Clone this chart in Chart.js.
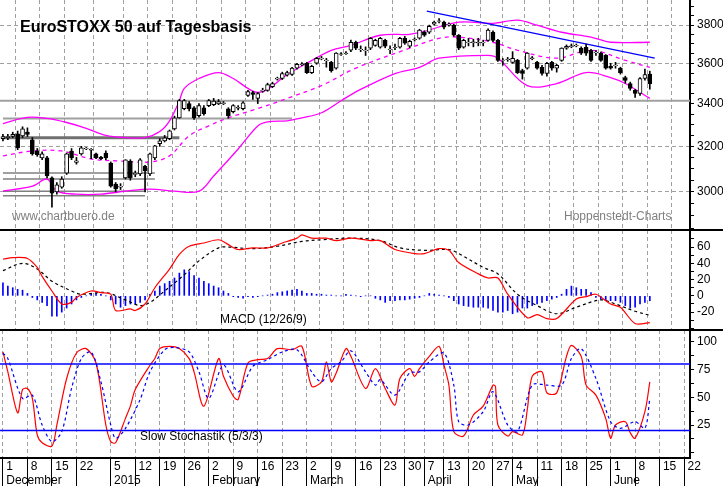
<!DOCTYPE html>
<html><head><meta charset="utf-8">
<script src="https://cdn.jsdelivr.net/npm/chart.js@4"></script>
<style>
body{margin:0;width:723px;height:486px;background:#fff;overflow:hidden;font-family:"Liberation Sans",Arial,sans-serif;position:relative}
.p{position:absolute;left:0;width:723px}
.sep{position:absolute;left:0;width:723px;height:2px;background:#000}
.t{position:absolute;white-space:nowrap}
</style></head><body>
<div class="p" style="top:0;height:230px"><canvas id="c1"></canvas></div>
<div class="p" style="top:230px;height:100px"><canvas id="c2"></canvas></div>
<div class="p" style="top:330px;height:156px"><canvas id="c3"></canvas></div>
<div class="sep" style="top:229px"></div>
<div class="sep" style="top:329px"></div>
<div class="t" style="left:20px;top:18px;font-size:16px;font-weight:bold;color:#000">EuroSTOXX 50 auf Tagesbasis</div>
<div class="t" style="left:12px;top:209px;font-size:12px;color:#808080">www.chartbuero.de</div>
<div class="t" style="left:564px;top:209px;font-size:12px;color:#808080">Hoppenstedt-Charts</div>
<div class="t" style="left:220px;top:312px;font-size:12px;color:#000">MACD (12/26/9)</div>
<div class="t" style="left:140px;top:429px;font-size:12px;color:#000">Slow Stochastik (5/3/3)</div>
<script>
const openP=[3235,3240,3245,3257,3248,3265,3230,3180,3148,3148,3060,3000,3020,3080,3179,3128,3166,3188,3183,3166,3150,3170,3125,3033,3020,3060,3134,3075,3077,3112,3077,3148,3212,3225,3235,3280,3332,3375,3400,3380,3342,3380,3390,3395,3398,3400,3375,3361,3378,3375,3440,3454,3425,3460,3464,3483,3520,3523,3540,3543,3575,3593,3600,3553,3600,3624,3613,3605,3575,3645,3650,3667,3709,3670,3665,3678,3693,3683,3719,3670,3680,3683,3730,3688,3722,3730,3762,3762,3805,3820,3816,3800,3800,3746,3683,3707,3707,3706,3705,3719,3762,3719,3614,3619,3605,3615,3563,3575,3624,3605,3580,3548,3605,3575,3615,3678,3686,3690,3678,3683,3667,3655,3652,3641,3585,3588,3575,3528,3498,3464,3449,3523,3545];
const highP=[3255,3255,3265,3270,3290,3285,3240,3190,3175,3155,3065,3040,3065,3170,3190,3150,3200,3195,3190,3170,3155,3180,3130,3040,3035,3140,3140,3090,3145,3115,3170,3205,3235,3250,3275,3340,3420,3420,3410,3385,3400,3390,3420,3425,3420,3410,3380,3395,3390,3410,3465,3460,3455,3475,3500,3505,3530,3555,3560,3580,3600,3603,3605,3590,3630,3635,3625,3610,3655,3655,3660,3720,3715,3690,3685,3735,3725,3735,3725,3690,3700,3735,3740,3720,3732,3778,3770,3800,3822,3835,3822,3812,3805,3750,3725,3730,3725,3730,3720,3780,3770,3725,3625,3630,3660,3620,3570,3655,3635,3610,3590,3605,3610,3595,3680,3695,3700,3700,3685,3700,3672,3665,3658,3645,3600,3605,3580,3535,3505,3470,3528,3570,3560];
const lowP=[3225,3230,3240,3185,3240,3245,3160,3155,3140,3060,2936,2990,3015,3075,3140,3120,3160,3185,3145,3145,3140,3140,3020,3000,3010,3055,3050,3065,3070,3000,3070,3140,3200,3220,3230,3275,3330,3370,3365,3325,3335,3345,3385,3390,3395,3395,3330,3355,3370,3370,3435,3420,3400,3455,3460,3478,3515,3518,3535,3538,3570,3588,3548,3548,3595,3618,3580,3555,3570,3640,3645,3660,3670,3660,3640,3670,3688,3678,3680,3650,3670,3678,3698,3680,3715,3725,3740,3755,3800,3812,3780,3795,3740,3670,3678,3690,3685,3690,3690,3715,3712,3610,3590,3610,3600,3548,3520,3570,3618,3570,3540,3535,3565,3555,3610,3672,3680,3685,3645,3640,3610,3640,3610,3570,3570,3575,3545,3500,3465,3430,3440,3515,3470];
const closeP=[3245,3245,3255,3193,3280,3255,3166,3162,3166,3068,2994,3030,3055,3166,3148,3135,3193,3190,3185,3148,3145,3148,3024,3012,3024,3139,3060,3080,3139,3090,3166,3202,3225,3239,3271,3332,3414,3414,3375,3332,3390,3352,3414,3412,3410,3404,3342,3390,3382,3404,3459,3444,3449,3466,3493,3498,3525,3548,3553,3575,3595,3597,3553,3585,3626,3627,3617,3563,3652,3648,3653,3709,3678,3673,3668,3730,3719,3730,3688,3673,3683,3730,3704,3714,3725,3773,3746,3794,3816,3823,3789,3805,3746,3678,3719,3710,3711,3709,3709,3773,3719,3615,3617,3621,3626,3553,3548,3652,3628,3575,3548,3600,3575,3590,3678,3688,3690,3693,3652,3652,3615,3658,3615,3575,3575,3590,3553,3513,3474,3449,3523,3543,3498];

const upperIdx=[0,5,9,13,17,21,25,29,32,34,36,37,40,44,47,50,52,54,58,62,67,71,77,83,86,93,100,105,109,114,120,124,132];
const upperVal=[3305,3334,3329,3310,3283,3250,3240,3240,3268,3318,3414,3474,3523,3553,3523,3474,3454,3469,3543,3600,3667,3693,3746,3751,3767,3816,3810,3827,3800,3762,3736,3709,3709];
const midIdx=[0,6,12,18,24,30,34,38,42,46,52,58,65,72,83,89,93,100,105,113,120,127,132];
const midVal=[3157,3179,3179,3143,3134,3130,3157,3248,3294,3332,3376,3425,3488,3575,3678,3730,3736,3709,3667,3626,3667,3615,3579];
const lowerIdx=[0,6,9,11,15,20,25,30,35,40,43,48,52,54,58,61,65,69,73,80,85,89,99,101,107,113,119,124,127,132];
const lowerVal=[3003,3024,3055,3003,2990,2990,3003,3012,3003,3003,3068,3188,3294,3313,3318,3332,3356,3414,3469,3548,3579,3626,3641,3626,3488,3498,3553,3528,3498,3425];

const trendIdx=[86.5,133];
const trendVal=[3876,3626];
const levelLines=[{from:0,to:36,val:3239,color:'#707070',w:3},{from:0,to:59,val:3329,color:'#a0a0a0',w:2},{from:-0.6,to:140.2,val:3414,color:'#a0a0a0',w:2},{from:0,to:31,val:3081,color:'#808080',w:1.5},{from:0,to:31,val:3055,color:'#808080',w:1.5},{from:0,to:29,val:3003,color:'#808080',w:1.5},{from:0,to:29,val:2983,color:'#808080',w:1.5}];

const macdIdx=[0,2,5,7,8,10,12,14,15,18,20,22,23,26,27,29,31,34,36,38,41,44,46,48,51,54,57,60,61,63,66,68,71,75,77,80,84,86,89,91,93,97,99,101,103,107,109,111,113,117,119,121,124,126,129,132];
const macdVal=[45,47,46,35,24,6,-10,-8,-2,6,4,2,-18,-16,-18,-10,10,33,51,61,65,69,63,57,59,59,65,71,75,71,71,68,71,68,68,57,52,52,58,56,41,27,22,22,2,-27,-23,-28,-28,-4,-1,2,-10,-14,-34,-33];
const sigIdx=[0,4,7,10,14,16,21,25,28,30,33,37,40,44,46,51,56,61,65,71,77,81,86,91,93,98,101,105,109,113,117,122,125,129,132];
const sigVal=[31,40,33,18,6,2,4,-5,-12,-8,6,26,43,59,60,58,61,67,69,71,68,59,56,57,52,35,27,2,-12,-22,-14,-5,-10,-19,-24];
const histVal=[16,12,10,8,7,3,-2,-5,-8,-12,-25,-25,-20,-15,-10,-5,-2,0,2,3,2,0,-5,-10,-14,-12,-10,-10,-8,-5,2,6,12,15,18,22,28,32,30,25,22,18,15,12,10,6,3,-1,-2,-3,-1,-2,-1,0,1,2,4,5,6,7,8,6,3,3,2,2,1,1,0,0,2,1,0,-1,0,0,-3,-5,-8,-6,-6,-5,-5,-4,-3,-2,0,3,2,1,0,-2,-6,-10,-12,-13,-14,-14,-14,-15,-18,-20,-20,-18,-22,-20,-15,-15,-12,-10,-8,-6,-4,-2,2,8,12,10,8,8,4,-2,-4,-6,-6,-6,-8,-12,-15,-14,-10,-8,-6];

// %K and %D readings (day index, value)
const kPts=[[0,91],[1,73],[3,36],[4,57],[5,58],[6,49],[7,16],[8,9],[10,6],[11,25],[13,67],[15,90],[17,94],[19,81],[21,25],[22,10],[23,9],[25,31],[26,42],[27,57],[30,79],[31,85],[32,94],[34,96],[36,94],[38,85],[39,73],[41,42],[44,85],[45,69],[47,51],[48,48],[50,81],[52,84],[54,85],[56,94],[59,93],[61,96],[63,60],[65,64],[66,82],[67,64],[68,72],[70,94],[71,87],[74,58],[76,76],[78,58],[80,43],[81,67],[83,76],[84,69],[85,76],[87,87],[89,96],[90,79],[91,61],[92,19],[94,15],[96,34],[98,42],[100,61],[100.5,60],[101,25],[103,15],[104,19],[106,16],[107,39],[108,69],[110,73],[111,54],[113,54],[115,87],[116,97],[118,87],[119,61],[121,52],[123,31],[124,13],[125,25],[127,28],[128,18],[129,13],[131,37],[132,64]];
const dPts=[[0,90],[1,85],[4,49],[6,52],[8,25],[10,10],[12,19],[14,58],[16,85],[18,91],[20,64],[22,25],[23,13],[25,22],[28,48],[30,73],[33,93],[35,95],[38,91],[40,73],[42,49],[45,79],[48,55],[51,78],[54,84],[57,91],[60,93],[63,73],[65,64],[67,76],[69,82],[71,92],[74,73],[76,61],[77,66],[80,52],[83,72],[85,73],[87,82],[90,90],[92,61],[93,28],[95,25],[98,37],[100,55],[103,25],[105,19],[108,61],[111,61],[114,61],[116,85],[118,94],[121,67],[124,28],[126,22],[129,28],[131,22],[132,49]];

const tickIdx=[0,5,10,15,22,27,32,37,42,47,52,57,62,67,72,77,82,86,90,95,100,104,109,114,119,124,129,134,139];
const tickDays=['1','8','15','22','5','12','19','26','2','9','16','23','2','9','16','23','30','7','13','20','27','4','11','18','25','1','8','15','22'];
const monthAt={0:'December',22:'2015',42:'February',62:'March',86:'April',104:'May',124:'June'};
</script>
<script>
const XMIN=-0.6, XMAX=140.2;
const FONT={family:'"Liberation Sans", Arial, sans-serif',size:12};
const N=closeP.length;
const pts=(ix,v)=>ix.map((x,i)=>({x:x,y:v[i]}));

function xScale(showLabels){
  return {type:'linear',min:XMIN,max:XMAX,offset:false,
    afterBuildTicks:s=>{s.ticks=tickIdx.map(v=>({value:v}));},
    ticks:{display:showLabels,autoSkip:false,maxRotation:0,align:'start',padding:-27,color:'#000',font:FONT,
      callback:(v)=>{const i=tickIdx.indexOf(v);if(i<0)return '';return monthAt[v]!==undefined?[' '+tickDays[i],' '+monthAt[v]]:' '+tickDays[i];}},
    grid:{color:'#a0a0a0',lineWidth:1,drawTicks:showLabels,tickLength:28,tickColor:'#000',tickBorderDash:[],tickWidth:1},
    border:{display:showLabels,color:'#000',width:2,dash:[4,3]},
    afterFit:s=>{s.height=showLabels?28:0;s.paddingLeft=0;s.paddingRight=0;}
  };
}
function yScale(opts){
  return Object.assign({position:'right',afterFit:s=>{s.width=33;s.paddingTop=0;s.paddingBottom=0;},
    border:{display:true,color:'#000',width:2},
  },opts);
}
Chart.defaults.animation=false;
Chart.defaults.font.family=FONT.family;
const common={responsive:false,maintainAspectRatio:false,layout:{padding:0},plugins:{legend:{display:false},tooltip:{enabled:false}},events:[]};

const candleWick=[],candleBody=[],bodyBg=[];
for(let i=0;i<N;i++){
  candleWick.push({x:i,y:[lowP[i],highP[i]]});
  let o=openP[i],c=closeP[i];
  if(Math.abs(o-c)<3){c=o+3;}
  candleBody.push({x:i,y:[Math.min(o,c),Math.max(o,c)]});
  bodyBg.push(closeP[i]>=openP[i]?'#fff':'#000');
}
const ds1=[
 {type:'line',data:pts(upperIdx,upperVal),borderColor:'#ff00ff',borderWidth:1.3,pointRadius:0,tension:0.35,order:5},
 {type:'line',data:pts(midIdx,midVal),borderColor:'#ff00ff',borderWidth:1.3,borderDash:[4,4],pointRadius:0,tension:0.35,order:5},
 {type:'line',data:pts(lowerIdx,lowerVal),borderColor:'#ff00ff',borderWidth:1.3,pointRadius:0,tension:0.35,order:5},
 {type:'line',data:pts(trendIdx,trendVal),borderColor:'#0000ff',borderWidth:1.3,pointRadius:0,order:4},
];
levelLines.forEach(l=>ds1.push({type:'line',data:[{x:l.from,y:l.val},{x:l.to,y:l.val}],borderColor:l.color,borderWidth:l.w,pointRadius:0,order:6}));
ds1.push({type:'bar',data:candleWick,backgroundColor:'#000',borderWidth:0,barThickness:1,grouped:false,order:2});
ds1.push({type:'bar',data:candleBody,backgroundColor:bodyBg,borderColor:'#000',borderWidth:1,borderSkipped:false,barThickness:4,grouped:false,order:1});

const c1=document.getElementById('c1');c1.width=723;c1.height=230;
new Chart(c1,{type:'bar',data:{datasets:ds1},options:Object.assign({},common,{scales:{
 x:xScale(false),
 y:yScale({type:'logarithmic',min:2842,max:3938,
   afterBuildTicks:s=>{const t=[];for(let v=2850;v<=3900;v+=50)t.push({value:v});s.ticks=t;},
   ticks:{color:'#000',font:FONT,padding:3,autoSkip:false,callback:v=>(v>=3000&&v<=3800&&v%200===0)?String(v):''},
   grid:{color:c=>(c.tick&&c.tick.value%200===0&&c.tick.value>=3000&&c.tick.value!==3400)?'#a0a0a0':'rgba(0,0,0,0)',tickColor:'#000',tickLength:4,drawOnChartArea:true},
   border:{display:true,color:'#000',width:2,dash:[4,3]}
 })
}})});

const histPts=histVal.map((v,i)=>({x:i,y:v}));
const c2=document.getElementById('c2');c2.width=723;c2.height=100;
new Chart(c2,{type:'bar',data:{datasets:[
 {type:'bar',data:histPts,backgroundColor:'#0000ff',barThickness:1,grouped:false,order:3},
 {type:'line',data:pts(sigIdx,sigVal),borderColor:'#000',borderWidth:1.2,borderDash:[3,3],pointRadius:0,tension:0.35,order:2},
 {type:'line',data:pts(macdIdx,macdVal),borderColor:'#ff0000',borderWidth:1.2,pointRadius:0,tension:0.3,order:1},
]},options:Object.assign({},common,{scales:{
 x:xScale(false),
 y:yScale({type:'linear',min:-42,max:81,
   afterBuildTicks:s=>{const t=[];for(let v=-40;v<=80;v+=10)t.push({value:v});s.ticks=t;},
   ticks:{color:'#000',font:FONT,padding:3,autoSkip:false,callback:v=>(v%20===0&&v>=-20&&v<=60)?String(v):''},
   grid:{color:'rgba(0,0,0,0)',tickColor:'#000',tickLength:4}
 })
}})});

const c3=document.getElementById('c3');c3.width=723;c3.height=156;
new Chart(c3,{type:'line',data:{datasets:[
 {data:[{x:XMIN,y:80},{x:XMAX,y:80}],borderColor:'#0000ff',borderWidth:1.5,pointRadius:0},
 {data:[{x:XMIN,y:20},{x:XMAX,y:20}],borderColor:'#0000ff',borderWidth:1.5,pointRadius:0},
 {data:dPts.map(p=>({x:p[0],y:p[1]})),borderColor:'#0000ff',borderWidth:1.2,borderDash:[3,3],pointRadius:0,tension:0.3},
 {data:kPts.map(p=>({x:p[0],y:p[1]})),borderColor:'#ff0000',borderWidth:1.2,pointRadius:0,tension:0.3},
]},options:Object.assign({},common,{scales:{
 x:xScale(true),
 y:yScale({type:'linear',min:-4.8,max:110.8,
   afterBuildTicks:s=>{const t=[];for(let v=0;v<=110;v+=12.5)t.push({value:v});s.ticks=t;},
   ticks:{color:'#000',font:FONT,padding:3,autoSkip:false,callback:v=>(v%25===0&&v>0)?String(v):''},
   grid:{color:'rgba(0,0,0,0)',tickColor:'#000',tickLength:4}
 })
}})});
</script>
</body></html>
